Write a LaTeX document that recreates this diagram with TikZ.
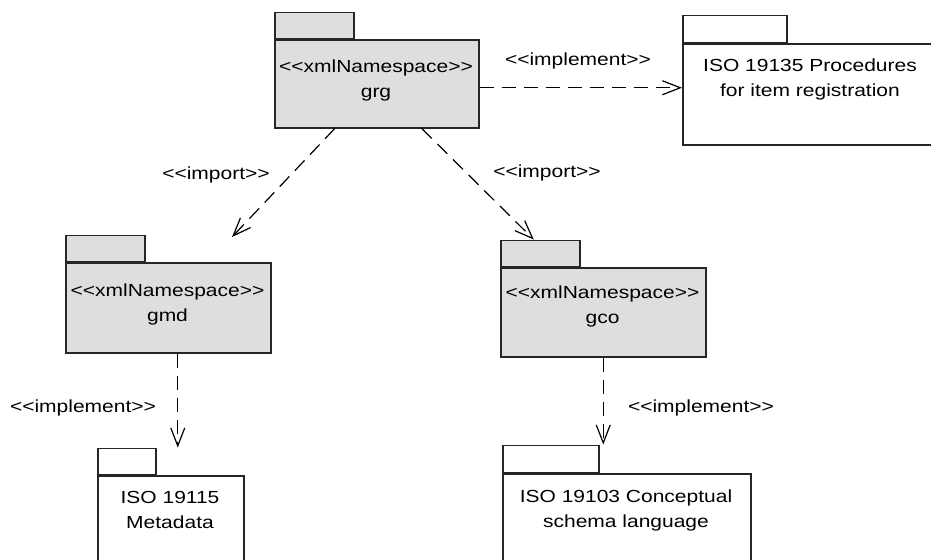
\documentclass[tikz,border=0pt]{standalone}
\usepackage{fontspec}
\newfontfamily\pkgfont{Liberation Sans}[FakeStretch=1.2]
\usetikzlibrary{positioning,arrows.meta}
\definecolor{pkggray}{RGB}{221,222,224}
\begin{document}
\begin{tikzpicture}
    [x=0.5pt,y=-0.5pt,font=\pkgfont\fontsize{8.75pt}{12.5pt}\selectfont,
     body/.style={draw=black!85,line width=0.75pt,inner sep=0pt,anchor=north west},
     ns/.style={body,fill=pkggray},
     tab/.style={draw=black!85,line width=0.75pt,inner sep=0pt,anchor=south west,minimum height=13pt},
     txt/.style={align=center,anchor=base,inner sep=0pt},
     dep/.style={dash pattern=on 7pt off 4pt,line width=0.6pt,-{Straight Barb[length=9pt,width=7pt]}}]
    \clip (0,0) rectangle (931,559);
    % packages
    \node[ns,minimum width=102pt,minimum height=44pt] (grg) at (274,39) {};
    \node[tab,fill=pkggray,minimum width=39.5pt] (grg-tab) at (grg.north west) {};
    \node[txt] (grg-txt) at (376,97) {<<xmlNamespace>>\\grg};
    \node[body,minimum width=128pt,minimum height=50.5pt] (iso135) at (682,43) {};
    \node[tab,minimum width=52pt,minimum height=13.5pt] (iso135-tab) at (iso135.north west) {};
    \node[txt] (iso135-txt) at (810,96) {ISO 19135 Procedures\\for item registration};
    \node[ns,minimum width=102.5pt,minimum height=45pt] (gmd) at (65,262) {};
    \node[tab,fill=pkggray,minimum width=39.5pt] (gmd-tab) at (gmd.north west) {};
    \node[txt] (gmd-txt) at (167.5,321) {<<xmlNamespace>>\\gmd};
    \node[ns,minimum width=102.5pt,minimum height=44.5pt] (gco) at (500,267) {};
    \node[tab,fill=pkggray,minimum width=39.5pt] (gco-tab) at (gco.north west) {};
    \node[txt] (gco-txt) at (602.5,323) {<<xmlNamespace>>\\gco};
    \node[body,minimum width=73pt,minimum height=50pt] (iso115) at (97,475) {};
    \node[tab,minimum width=29pt] (iso115-tab) at (iso115.north west) {};
    \node[txt] (iso115-txt) at (170,528) {ISO 19115\\Metadata};
    \node[body,minimum width=124pt,minimum height=50pt] (iso103) at (502,473) {};
    \node[tab,minimum width=48pt,minimum height=13.5pt] (iso103-tab) at (iso103.north west) {};
    \node[txt] (iso103-txt) at (626,527) {ISO 19103 Conceptual\\schema language};
    % dependencies
    \coordinate (gmd-in) at (232,237);
    \draw[dep] ([yshift=-2pt]grg.east) -- ([yshift=-2pt]grg.east -| iso135.west);
    \draw[dep] ([xshift=-21pt]grg.south) -- (gmd-in);
    \draw[dep] ([xshift=22.5pt]grg.south) -- ([xshift=-3.25pt]gco-tab.north);
    \draw[dep] ([xshift=4.75pt]gmd.south) -- ([xshift=4.75pt]gmd.south |- iso115-tab.north);
    \draw[dep] (gco.south) -- (gco.south |- iso103-tab.north);
    \node (imp-top) at (578,61) {<<implement>>};
    \node (imp-gmd) at (216,175) {<<import>>};
    \node (imp-gco) at (547,173) {<<import>>};
    \node (impl-gmd) at (83,408) {<<implement>>};
    \node (impl-gco) at (701,408) {<<implement>>};
\end{tikzpicture}
\end{document}
